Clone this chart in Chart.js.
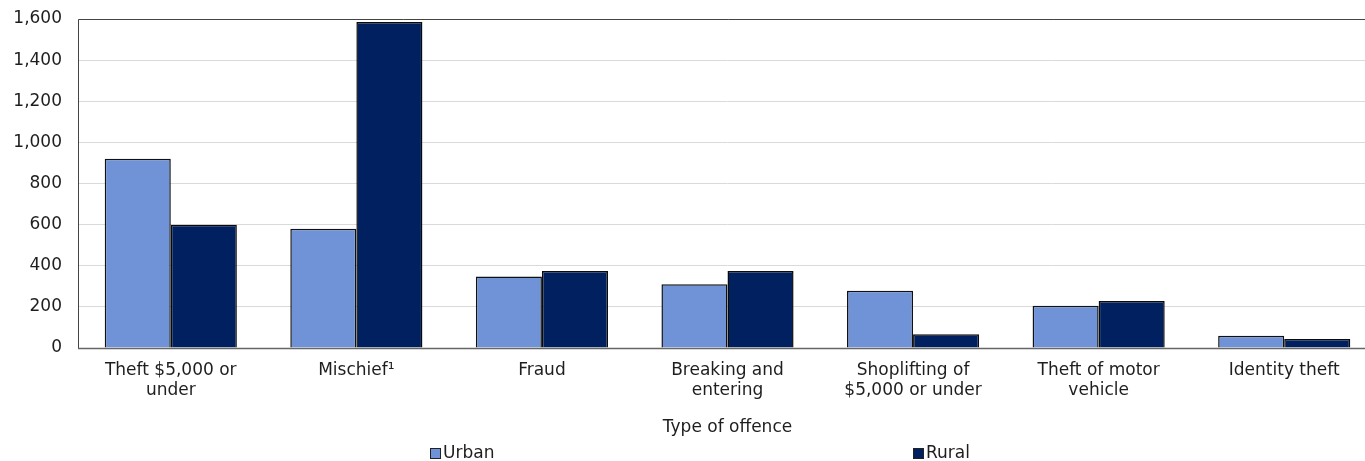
<!DOCTYPE html>
<html>
<head>
<meta charset="utf-8">
<script src="https://cdn.jsdelivr.net/npm/chart.js@4.4.1/dist/chart.umd.min.js"></script>
<style>
  html, body { margin: 0; padding: 0; background: #fff; overflow: hidden; }
  #wrap { position: relative; width: 1377px; height: 461px; }
</style>
</head>
<body>
<div id="wrap"><canvas id="chart-offence"></canvas></div>
<script>
// ==================== offence counts, urban vs rural ====================
const categories = [
  ['Theft $5,000 or', 'under'],
  'Mischief¹',
  'Fraud',
  ['Breaking and', 'entering'],
  ['Shoplifting of', '$5,000 or under'],
  ['Theft of motor', 'vehicle'],
  'Identity theft'
];
const urbanValues = [920, 580, 348, 310, 278, 205, 60];
const ruralValues = [600, 1585, 375, 375, 67, 228, 44];
const yTicks = [0, 200, 400, 600, 800, 1000, 1200, 1400, 1600];

const FONT = '"DejaVu Sans", Verdana, sans-serif';
const TEXT = '#1e1e1e';
const COLORS = { urban: '#7093d7', rural: '#00205f' };

// frame round the plot area (top + left + bottom)
const frame = {
  id: 'frame',
  afterDatasetsDraw(chart) {
    const { ctx, chartArea: a } = chart;
    ctx.save();
    ctx.strokeStyle = '#444';
    ctx.lineWidth = 1;
    ctx.beginPath();
    ctx.moveTo(a.right + 2, a.top + 0.5);
    ctx.lineTo(a.left + 0.5, a.top + 0.5);
    ctx.lineTo(a.left + 0.5, a.bottom);
    ctx.stroke();
    ctx.strokeStyle = '#666';
    ctx.lineWidth = 1.5;
    ctx.beginPath();
    ctx.moveTo(a.left, a.bottom + 0.5);
    ctx.lineTo(a.right + 2, a.bottom + 0.5);
    ctx.stroke();
    ctx.restore();
  }
};

// legend drawn as two spread-out items under the axis title
const spreadLegend = {
  id: 'spreadLegend',
  afterDraw(chart, args, opts) {
    const { ctx } = chart;
    ctx.save();
    ctx.font = '17px ' + FONT;
    ctx.textBaseline = 'middle';
    chart.data.datasets.forEach((ds, i) => {
      const x = opts.xs[i], y = opts.y;
      ctx.fillStyle = ds.backgroundColor;
      ctx.fillRect(x, y - 5, 11, 11);
      ctx.strokeStyle = '#222';
      ctx.lineWidth = 1;
      ctx.strokeRect(x + 0.5, y - 4.5, 10, 10);
      ctx.fillStyle = TEXT;
      ctx.fillText(ds.label, x + 13, y + 1);
    });
    ctx.restore();
  }
};

new Chart(document.getElementById('chart-offence'), {
  type: 'bar',
  data: {
    labels: categories,
    datasets: [
      { label: 'Urban', data: urbanValues, backgroundColor: COLORS.urban, borderColor: '#111', borderWidth: 1.5 },
      { label: 'Rural', data: ruralValues, backgroundColor: COLORS.rural, borderColor: '#0a0a0a', borderWidth: 1.5 }
    ]
  },
  options: {
    responsive: true, maintainAspectRatio: false, animation: false,
    layout: { padding: { top: 19, bottom: 21, left: 0, right: 0 } },
    datasets: { bar: { categoryPercentage: 0.712, barPercentage: 1.0 } },
    plugins: {
      legend: { display: false },
      tooltip: { enabled: false },
      spreadLegend: { xs: [430, 913], y: 453 }
    },
    scales: {
      x: {
        grid: { display: false, drawTicks: false },
        border: { display: false },
        ticks: { color: TEXT, font: { family: FONT, size: 17 }, padding: 12, maxRotation: 0, autoSkip: false },
        title: { display: true, text: 'Type of offence', color: TEXT, font: { family: FONT, size: 17 }, padding: { top: 4, bottom: 2 } },
        afterFit: s => { s.height = 92; }
      },
      y: {
        min: 0, max: 1600,
        afterBuildTicks: s => { s.ticks = yTicks.map(v => ({ value: v })); },
        grid: { color: '#dadada', lineWidth: 1, drawTicks: false },
        border: { display: false },
        ticks: { color: TEXT, font: { family: FONT, size: 17 }, padding: 16, callback: v => v.toLocaleString('en-US') },
        // keep the label gap from pushing the plot top down
        afterFit: s => { s.width = 78; s.paddingTop = 10; s.paddingBottom = 10; }
      }
    }
  },
  plugins: [frame, spreadLegend]
});
</script>
</body>
</html>
